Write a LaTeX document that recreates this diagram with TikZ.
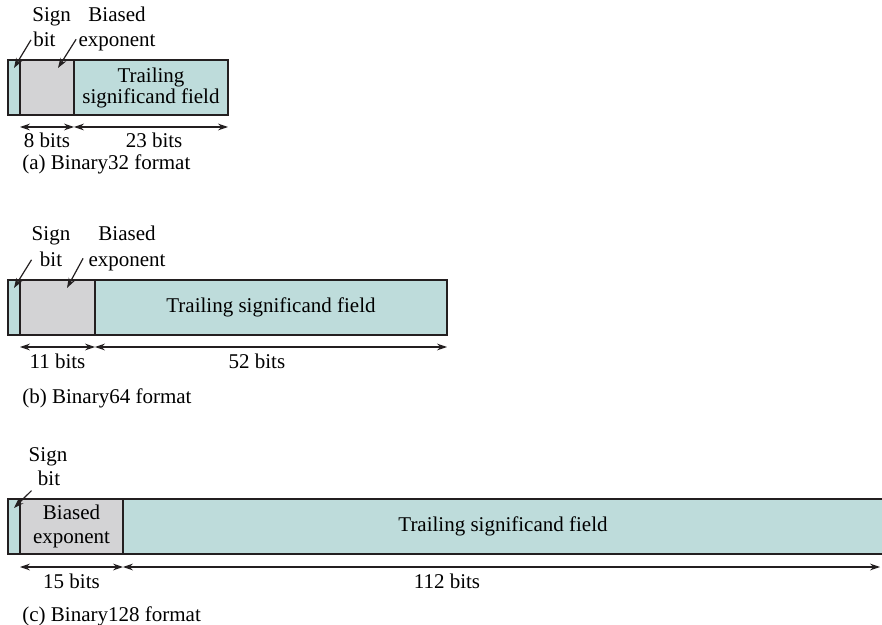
\documentclass[tikz,border=0pt]{standalone}
\usepackage{fontspec}
\setmainfont{Liberation Serif}
\usetikzlibrary{arrows.meta,positioning}
\definecolor{fpTeal}{HTML}{BEDCDB}
\definecolor{fpGrey}{HTML}{D3D3D5}
\definecolor{fpInk}{HTML}{231F20}
\tikzset{
  >={Stealth[length=5pt,width=3.4pt]},
  fld/.style={draw=fpInk, line width=0.75pt, minimum height=27.5pt, inner sep=0pt,
              outer sep=0pt, align=center},
  sgn/.style={fld, fill=fpTeal, minimum width=6pt},
  bexp/.style={fld, fill=fpGrey},
  trail/.style={fld, fill=fpTeal},
  lbl/.style={anchor=base, inner sep=0pt},
  dimlbl/.style={lbl, yshift=-10.5pt},
  ptr/.style={->, draw=fpInk, line width=0.6pt},
  dimarr/.style={<->, draw=fpInk, line width=0.6pt},
}

\begin{document}
\begin{tikzpicture}[x=0.5pt, y=-0.5pt, font=\fontsize{10.5}{12}\selectfont]
  \useasboundingbox (0,0) rectangle (882,625);
  % (a) binary32
  \node[sgn, anchor=north west] (sA) at (8,60) {};
  \node[bexp, minimum width=27pt, right=0pt of sA] (eA) {};
  \node[trail, minimum width=77pt, right=0pt of eA, font=\fontsize{10.5}{10.5}\selectfont] (fA) {Trailing\\significand field};
  \node[lbl, anchor=base west] (sgnA) at (32,22) {Sign};
  \node[lbl, anchor=base west] (bitA) at (33,47) {bit};
  \node[lbl] (biaA) at (117,22) {Biased};
  \node[lbl] (expA) at (117,47) {exponent};
  \draw[ptr] ([xshift=-1pt]bitA.west) -- ([yshift=-4pt]sA.north);
  \draw[ptr] ([shift={(-1pt,2pt)}]expA.west) -- ([shift={(5.5pt,-4pt)}]eA.north);
  \draw[dimarr] ([yshift=-6pt]sA.south east) -- node[dimlbl] (wA1) {8 bits} ([yshift=-6pt]eA.south east);
  \draw[dimarr] ([yshift=-6pt]eA.south east) -- node[dimlbl, pos=0.52] (wA2) {23 bits} ([yshift=-6pt]fA.south east);
  \node[lbl, anchor=base west] (capA) at (22,170) {(a) Binary32 format};

  % (b) binary64
  \node[sgn, anchor=north west] (sB) at (8,280) {};
  \node[bexp, minimum width=37.5pt, right=0pt of sB] (eB) {};
  \node[trail, minimum width=176pt, right=0pt of eB] (fB) {Trailing significand field};
  \node[lbl] (sgnB) at (51,241) {Sign};
  \node[lbl] (bitB) at (51,267) {bit};
  \node[lbl] (biaB) at (127,241) {Biased};
  \node[lbl] (expB) at (127,267) {exponent};
  \draw[ptr] ([xshift=-4pt]bitB.west) -- ([yshift=-4pt]sB.north);
  \draw[ptr] ([shift={(-2.5pt,2.5pt)}]expB.west) -- ([shift={(4.75pt,-4pt)}]eB.north);
  \draw[dimarr] ([yshift=-6pt]sB.south east) -- node[dimlbl] (wB1) {11 bits} ([yshift=-6pt]eB.south east);
  \draw[dimarr] ([yshift=-6pt]eB.south east) -- node[dimlbl, pos=0.46] (wB2) {52 bits} ([yshift=-6pt]fB.south east);
  \node[lbl, anchor=base west] (capB) at (22,403) {(b) Binary64 format};

  % (c) binary128
  \node[sgn, anchor=north west] (sC) at (8,499) {};
  \node[bexp, minimum width=51.5pt, right=0pt of sC] (eC) {Biased\\exponent};
  \node[trail, minimum width=380pt, right=0pt of eC] (fC) {Trailing significand field};
  \node[lbl] (sgnC) at (48,461) {Sign};
  \node[lbl] (bitC) at (49,485) {bit};
  \draw[ptr] ([shift={(-3pt,-2.5pt)}]bitC.south west) -- ([yshift=-4.5pt]sC.north);
  \draw[dimarr] ([yshift=-6.5pt]sC.south east) -- node[dimlbl] (wC1) {15 bits} ([yshift=-6.5pt]eC.south east);
  \draw[dimarr] ([yshift=-6.5pt]eC.south east) -- node[dimlbl, pos=0.428] (wC2) {112 bits} ([shift={(-1.5pt,-6.5pt)}]fC.south east);
  \node[lbl, anchor=base west] (capC) at (22,621) {(c) Binary128 format};
\end{tikzpicture}
\end{document}
